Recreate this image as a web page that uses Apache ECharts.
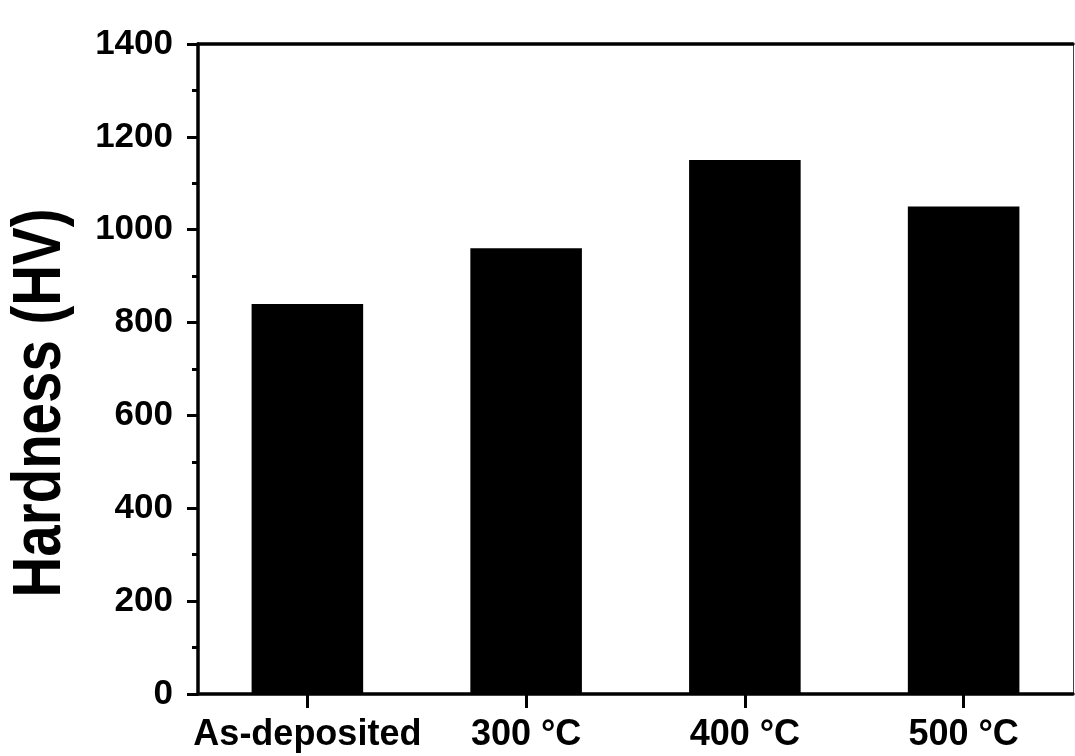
<!DOCTYPE html>
<html>
<head>
<meta charset="utf-8">
<script src="https://cdn.jsdelivr.net/npm/echarts@6/dist/echarts.min.js"></script>
<style>
  html, body { margin: 0; padding: 0; background: #fff; }
  #chart { width: 1075px; height: 756px; }
</style>
</head>
<body>
<div id="chart"></div>
<script>
// Hardness of the coating as deposited and after annealing
const categories = ['As-deposited', '300 °C', '400 °C', '500 °C'];
const hardness = [840, 960, 1150, 1050];
const yTicks = { min: 0, max: 1400, interval: 200 };
const yTitle = 'Hardness (HV)';

const FONT = '"Liberation Sans", Arial, sans-serif';

const chart = echarts.init(document.getElementById('chart'), null, { renderer: 'canvas' });

chart.setOption({
  backgroundColor: '#ffffff',
  animation: false,
  grid: { left: 198, right: 2, top: 44, bottom: 62, containLabel: false },
  xAxis: [
    {
      type: 'category',
      data: categories,
      boundaryGap: true,
      axisLine: { show: true, lineStyle: { color: '#000', width: 3.5 } },
      axisTick: { show: true, alignWithLabel: true, length: 14, lineStyle: { color: '#000', width: 3 } },
      axisLabel: {
        interval: 0, color: '#000', fontFamily: FONT, fontWeight: 'bold', fontSize: 36, margin: 23
      },
      splitLine: { show: false }
    },
    {
      // top frame line
      type: 'value', position: 'top', min: 0, max: 1,
      axisLine: { show: true, onZero: false, lineStyle: { color: '#000', width: 3.5 } },
      axisTick: { show: false }, axisLabel: { show: false }, splitLine: { show: false }
    }
  ],
  yAxis: [
    {
      type: 'value',
      min: yTicks.min, max: yTicks.max, interval: yTicks.interval,
      axisLine: { show: true, onZero: false, lineStyle: { color: '#000', width: 3.5 } },
      axisTick: { show: true, length: 11, lineStyle: { color: '#000', width: 3 } },
      minorTick: { show: true, splitNumber: 2, length: 6, lineStyle: { color: '#000', width: 3 } },
      axisLabel: {
        color: '#000', fontFamily: FONT, fontWeight: 'bold', fontSize: 35, margin: 25,
        formatter: (v) => String(v)
      },
      splitLine: { show: false }
    },
    {
      // right frame line
      type: 'value', position: 'right', min: 0, max: 1,
      axisLine: { show: true, onZero: false, lineStyle: { color: '#444', width: 1 } },
      axisTick: { show: false }, axisLabel: { show: false }, splitLine: { show: false }
    }
  ],
  series: [
    {
      type: 'bar',
      data: hardness,
      barWidth: '51%',
      itemStyle: { color: '#000' },
      xAxisIndex: 0,
      yAxisIndex: 0
    }
  ],
  graphic: [
    {
      type: 'text',
      x: 41,
      y: 403,
      rotation: Math.PI / 2,
      scaleX: 0.83,
      style: {
        text: yTitle,
        fill: '#000',
        font: 'bold 68px ' + FONT,
        textAlign: 'center',
        textVerticalAlign: 'middle'
      }
    }
  ]
});
</script>
</body>
</html>
